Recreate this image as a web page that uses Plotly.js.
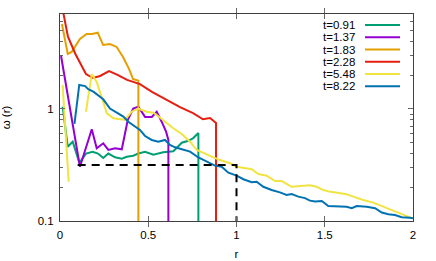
<!DOCTYPE html>
<html>
<head>
<meta charset="utf-8">
<script src="https://cdn.plot.ly/plotly-3.0.1.min.js"></script>
<style>html,body{margin:0;padding:0;background:#fff;}#chart{width:436px;height:261px;}</style>
</head>
<body>
<div id="chart"></div>
<script>
// ---- data ----
var seriesNames = ["t=0.91", "t=1.37", "t=1.83", "t=2.28", "t=5.48", "t=8.22"];
var seriesColors = ["#009e73", "#9400d3", "#e69f00", "#e51e10", "#f0e442", "#0072b2"];

var r091 = [0.015, 0.044, 0.072, 0.11, 0.147, 0.185, 0.215, 0.245, 0.274, 0.312, 0.35, 0.378, 0.415, 0.444, 0.482, 0.529, 0.585, 0.642, 0.69, 0.727, 0.755, 0.784, 0.784];
var w091 = [1.05, 0.46, 0.51, 0.33, 0.40, 0.415, 0.40, 0.365, 0.40, 0.37, 0.36, 0.375, 0.383, 0.40, 0.415, 0.39, 0.41, 0.42, 0.50, 0.52, 0.55, 0.61, 0.001];

var r137 = [0.006, 0.113, 0.18, 0.208, 0.245, 0.274, 0.312, 0.35, 0.384, 0.415, 0.444, 0.482, 0.52, 0.548, 0.576, 0.601, 0.614, 0.614];
var w137 = [2.97, 0.305, 0.66, 0.446, 0.494, 0.431, 0.446, 0.437, 0.80, 1.01, 1.05, 0.85, 0.85, 0.946, 0.77, 0.627, 0.529, 0.001];

var r183 = [0.011, 0.044, 0.066, 0.113, 0.151, 0.181, 0.214, 0.244, 0.283, 0.321, 0.357, 0.391, 0.414, 0.444, 0.444];
var w183 = [5.74, 3.10, 3.23, 4.22, 4.67, 4.67, 4.80, 3.73, 3.80, 3.58, 2.91, 2.28, 1.85, 1.79, 0.001];

var r228 = [0.01, 0.045, 0.088, 0.147, 0.187, 0.227, 0.278, 0.329, 0.38, 0.453, 0.521, 0.584, 0.68, 0.754, 0.81, 0.85, 0.884, 0.884];
var w228 = [8.5, 4.42, 3.08, 2.05, 1.89, 1.97, 2.18, 2.01, 1.82, 1.67, 1.42, 1.25, 1.04, 0.92, 0.81, 0.83, 0.75, 0.001];

var r548 = [0.015, 0.049, null, 0.147, 0.18, 0.208, 0.236, 0.265, 0.302, 0.368, 0.406, 0.444, 0.491, 0.529, 0.548, 0.595, 0.642, 0.69, 0.737, 0.775, 0.831, 0.869, 0.907, 0.963, 1.001, 1.048, 1.086, 1.124, 1.171, 1.218, 1.256, 1.313, 1.369, 1.416, 1.454, 1.492, 1.526, 1.577, 1.624, 1.662, 1.718, 1.775, 1.832, 1.888, 1.945, 1.993];
var w548 = [1.64, 0.224, null, 0.946, 2.05, 1.74, 1.28, 0.92, 0.826, 0.80, 0.946, 1.01, 0.946, 0.927, 0.884, 0.77, 0.673, 0.598, 0.51, 0.43, 0.397, 0.37, 0.35, 0.328, 0.305, 0.299, 0.29, 0.263, 0.254, 0.227, 0.227, 0.202, 0.205, 0.208, 0.202, 0.189, 0.183, 0.179, 0.173, 0.165, 0.154, 0.146, 0.134, 0.124, 0.113, 0.106];

var r822 = [0.082, 0.109, 0.142, 0.16, 0.189, 0.217, 0.245, 0.283, 0.321, 0.359, 0.387, 0.425, 0.453, 0.482, 0.52, 0.557, 0.595, 0.623, 0.652, 0.69, 0.737, 0.784, 0.831, 0.878, 0.916, 0.954, 1.001, 1.039, 1.086, 1.114, 1.152, 1.199, 1.246, 1.284, 1.313, 1.35, 1.388, 1.416, 1.445, 1.483, 1.52, 1.577, 1.624, 1.653, 1.681, 1.738, 1.785, 1.823, 1.86, 1.898, 1.936, 1.983, 2.0];
var w822 = [0.735, 1.64, 1.60, 1.50, 1.43, 1.33, 1.22, 1.01, 0.927, 0.854, 0.77, 0.705, 0.65, 0.574, 0.529, 0.51, 0.529, 0.477, 0.455, 0.437, 0.416, 0.369, 0.339, 0.312, 0.305, 0.27, 0.254, 0.236, 0.222, 0.224, 0.202, 0.189, 0.18, 0.171, 0.174, 0.165, 0.16, 0.152, 0.149, 0.151, 0.136, 0.134, 0.134, 0.13, 0.136, 0.134, 0.13, 0.119, 0.115, 0.113, 0.108, 0.107, 0.106];

var dashR = [0.1, 1.0, 1.0];
var dashW = [0.316, 0.316, 0.1];

var xTickVals = [0, 0.5, 1, 1.5, 2];
var xTickText = ["0", "0.5", "1", "1.5", "2"];
var yTickVals = [0.1, 1];
var yTickText = ["0.1", "1"];
var yMinorVals = [0.2, 0.3, 0.4, 0.5, 0.6, 0.7, 0.8, 0.9, 2, 3, 4, 5, 6, 7];

// ---- build ----
var rs = [r091, r137, r183, r228, r548, r822];
var ws = [w091, w137, w183, w228, w548, w822];
var traces = [];
for (var i = 0; i < rs.length; i++) {
  traces.push({x: rs[i], y: ws[i], type: 'scatter', mode: 'lines', name: seriesNames[i],
    line: {color: seriesColors[i], width: 2}, connectgaps: false, showlegend: false, hoverinfo: 'skip'});
}
traces.push({x: dashR, y: dashW, type: 'scatter', mode: 'lines', showlegend: false,
  line: {color: '#000', width: 2, dash: '8px,6px'}, hoverinfo: 'skip'});
// invisible trace to activate the right-hand axis (ticks only)
traces.push({x: [dashR[0]], y: [dashW[0]], yaxis: 'y2', type: 'scatter', mode: 'lines', showlegend: false,
  line: {width: 0}, hoverinfo: 'skip'});

var font = {family: 'Liberation Sans, Arial, sans-serif', size: 11.5, color: '#000'};
var annotations = [], shapes = [];
var plotTop = 14, plotBot = 221, plotL = 60, plotR = 413;
for (var j = 0; j < seriesNames.length; j++) {
  var py = 25 + 12.25 * j;
  var yp = (plotBot - py) / (plotBot - plotTop);
  annotations.push({xref: 'paper', yref: 'paper', x: (357 - plotL) / (plotR - plotL), y: yp,
    xanchor: 'right', yanchor: 'middle', text: seriesNames[j], showarrow: false, font: font});
  shapes.push({type: 'line', xref: 'paper', yref: 'paper',
    x0: (365 - plotL) / (plotR - plotL), x1: (400 - plotL) / (plotR - plotL), y0: yp, y1: yp,
    line: {color: seriesColors[j], width: 2}});
}

var yRange = [-1, 0.848];
var layout = {
  width: 436, height: 261,
  margin: {l: 60, r: 23, t: 14, b: 40},
  paper_bgcolor: '#fff', plot_bgcolor: '#fff',
  font: font,
  showlegend: false,
  xaxis: {range: [0, 2], tickvals: xTickVals, ticktext: xTickText, ticks: 'inside', ticklen: 5,
    tickcolor: '#666', showline: true, linecolor: '#404040', linewidth: 1, mirror: 'allticks',
    ticklabelstandoff: 3,
    showgrid: false, zeroline: false, title: {text: 'r', font: font, standoff: 10}, tickfont: font},
  yaxis: {type: 'log', range: yRange, tickvals: yTickVals, ticktext: yTickText, ticks: 'inside', ticklen: 5,
    tickcolor: '#666', showline: true, linecolor: '#404040', linewidth: 1, mirror: 'allticks',
    ticklabelstandoff: 3,
    minor: {tickvals: yMinorVals, ticks: 'inside', ticklen: 3, tickcolor: '#666', showgrid: false},
    showgrid: false, zeroline: false, title: {text: 'ω (r)', font: font, standoff: 24}, tickfont: font},
  yaxis2: {type: 'log', range: yRange, overlaying: 'y', side: 'right', tickvals: yTickVals,
    showticklabels: false, ticks: 'inside', ticklen: 5, tickcolor: '#666', showline: false,
    minor: {tickvals: yMinorVals, ticks: 'inside', ticklen: 3, tickcolor: '#666', showgrid: false},
    showgrid: false, zeroline: false},
  annotations: annotations,
  shapes: shapes
};
Plotly.newPlot('chart', traces, layout, {staticPlot: true, displayModeBar: false});
</script>
</body>
</html>
